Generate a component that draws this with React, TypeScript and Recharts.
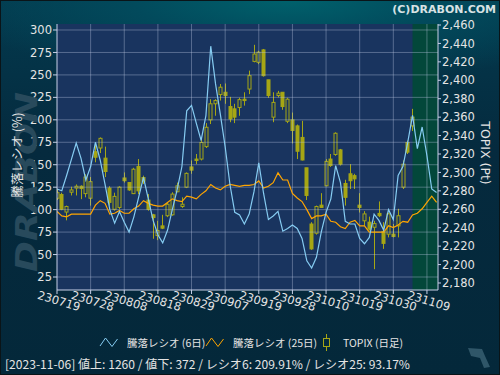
import { ComposedChart, Line, Bar, XAxis, YAxis, CartesianGrid, ReferenceArea, ReferenceLine } from "recharts"

// x ticks every 7 trading days
const tickIdx = [0, 7, 14, 21, 28, 35, 42, 49, 56, 63, 70, 77]
const tickLabels = ["230719", "230728", "230808", "230818", "230829", "230907", "230919", "230928", "231010", "231019", "231030", "231109"]
const leftTicks = [25, 50, 75, 100, 125, 150, 175, 200, 225, 250, 275, 300]
const rightTicks = [2180, 2200, 2220, 2240, 2260, 2280, 2300, 2320, 2340, 2360, 2380, 2400, 2420, 2440, 2460]

// 騰落レシオ 6日 (%)
const ratio6 = [
  123, 121, 138, 156, 174, 157, 133, 148, 175, 155,
  128, 100, 85, 98, 86, 75, 92, 114, 136, 112,
  88, 72, 63, 77, 100, 122, 148, 210, 216, 196,
  177, 205, 282, 240, 206, 170, 128, 97, 94, 84,
  95, 120, 152, 118, 89, 93, 98, 76, 79, 83,
  79, 68, 43, 35, 47, 75, 97, 112, 149, 130,
  87, 84, 84, 68, 62, 69, 95, 88, 77, 100,
  89, 138, 148, 175, 205, 168, 192, 160, 123, 119,
]

// 騰落レシオ 25日 (%)
const ratio25 = [
  98, 93, 92, 95, 95, 95, 95, 95, 105, 110,
  107, 95, 96, 99, 96, 96, 101, 104, 110, 107,
  105, 104, 104, 108, 112, 110, 109, 115, 114, 112,
  117, 121, 128, 124, 122, 126, 128, 127, 126, 127,
  127, 128, 132, 124, 126, 130, 141, 133, 133, 118,
  113, 109, 100, 90, 93, 93, 95, 87, 86, 81,
  79, 86, 88, 82, 82, 75, 75, 75, 75, 82,
  80, 83, 87, 86, 94, 96, 101, 108, 115, 108,
]

// TOPIX daily candles
const open = [
  2272, 2276, 2257, 2278.5, 2283, 2285, 2277, 2272, 2322.5, 2326.5,
  2315.5, 2283, 2260, 2262, 2294, 2289, 2277, 2306.5, 2294.5, 2270,
  2254, 2231.5, 2242, 2253, 2254, 2279, 2263, 2284, 2306, 2314.5,
  2314.5, 2328, 2357, 2374.5, 2384.5, 2387, 2371.5, 2369, 2370.5, 2379.5,
  2390.5, 2420.5, 2419.5, 2433, 2400.5, 2360, 2383.5, 2387, 2355.5, 2357,
  2350.5, 2338, 2305, 2244, 2234, 2264.5, 2285.5, 2314.5, 2319.5, 2324.5,
  2288, 2298.5, 2296.5, 2264.5, 2247.5, 2246, 2240.5, 2255.5, 2236, 2233,
  2233, 2242, 2284, 2332.5, 2350.5,
]
const high = [
  2282, 2278, 2264, 2284.5, 2287, 2286, 2298, 2295, 2331, 2338,
  2328, 2285, 2278, 2285, 2300, 2289.5, 2305, 2314.5, 2296.5, 2276.5,
  2255, 2247.5, 2254, 2267.5, 2278.5, 2289, 2273, 2300, 2313, 2320,
  2336.5, 2353.5, 2379.5, 2379.5, 2396, 2396.5, 2382, 2374.5, 2381, 2387,
  2410.5, 2438.5, 2432, 2434, 2400.5, 2387, 2388.5, 2387, 2381, 2365,
  2352, 2356, 2305, 2246, 2264, 2277.5, 2314.5, 2320, 2343.5, 2325.5,
  2292, 2309, 2298.5, 2277.5, 2258, 2252, 2247.5, 2268.5, 2246, 2256.5,
  2244, 2260.5, 2313, 2334.5, 2369,
]
const low = [
  2270, 2259, 2248, 2275, 2275, 2271, 2273, 2264, 2311, 2321,
  2295, 2264, 2258.5, 2260, 2289, 2280, 2276.5, 2276.5, 2287.5, 2258.5,
  2228, 2226.5, 2238.5, 2251.5, 2253, 2278.5, 2261.5, 2283, 2298.5, 2309,
  2313, 2326.5, 2352.5, 2361.5, 2378, 2374.5, 2354.5, 2353.5, 2361.5, 2372.5,
  2385, 2419.5, 2417.5, 2404, 2381, 2354.5, 2381.5, 2368, 2353.5, 2331.5,
  2314.5, 2313, 2270, 2216, 2232.5, 2261.5, 2285, 2306, 2318, 2307.5,
  2264, 2282, 2282, 2256.5, 2242, 2237, 2195, 2251.5, 2217, 2229.5,
  2229.5, 2229.5, 2282, 2320, 2345,
]
const close = [
  2278, 2260, 2263, 2281, 2285, 2282.5, 2295, 2290, 2316.5, 2337,
  2301, 2267.5, 2274, 2284, 2291, 2281, 2303.5, 2280, 2290.5, 2260,
  2251, 2237, 2239.5, 2265.5, 2276.5, 2285.5, 2265.5, 2299, 2302.5, 2313,
  2332.5, 2349, 2374.5, 2378, 2392.5, 2383.5, 2358, 2360, 2379, 2378,
  2405, 2428.5, 2430.5, 2405, 2383.5, 2376, 2386, 2371.5, 2379.5, 2345.5,
  2323, 2313.5, 2275, 2217, 2263, 2262, 2312, 2307.5, 2342.5, 2309,
  2273, 2291, 2293, 2262, 2255, 2238.5, 2244.5, 2253, 2223, 2255,
  2230.5, 2253, 2309, 2322, 2360,
]

const lastCandle = open.length - 1
const xMax = 79.3

const data = ratio6.map((r6, i) => ({
  i,
  r6,
  r25: ratio25[i],
  open: open[i],
  high: high[i],
  low: low[i],
  close: close[i],
  range: i < open.length ? [low[i], high[i]] : undefined,
}))

const TEXT = "#e4e4e4"
const CANDLE = "#a6a614"
const GRID = "rgba(190,200,225,0.38)"
const AXIS = "#c8d0e8"
const FONT = "'DejaVu Sans', sans-serif"
const JP = "'Noto Sans CJK JP', sans-serif"

function Candle(props: any) {
  const { x, y, width, height, payload } = props
  if (!payload || payload.range == null || height == null) return null
  const top = Math.min(y, y + height)
  const h = Math.abs(height)
  const { open: o, close: c, high: hi, low: lo } = payload
  const yOf = (v: number) => top + ((hi - v) / (hi - lo)) * h
  const cx = Math.round(x + width / 2) + 0.5
  const up = c >= o
  const bt = yOf(Math.max(o, c))
  const bb = yOf(Math.min(o, c))
  return (
    <g>
      <line x1={cx} x2={cx} y1={top} y2={top + h} stroke={CANDLE} strokeWidth={1} />
      <rect
        x={cx - 1.5}
        y={bt}
        width={3}
        height={Math.max(bb - bt, 1)}
        fill={up ? "#19345f" : CANDLE}
        stroke={CANDLE}
        strokeWidth={1}
      />
    </g>
  )
}

function DateTick(props: any) {
  const { x, y, payload } = props
  const k = tickIdx.indexOf(payload.value)
  const cx = x + 2
  const cy = y + 5
  return (
    <text
      x={cx}
      y={cy + 4}
      textAnchor="middle"
      fontFamily={FONT}
      fontSize={11.5}
      fill={TEXT}
      transform={`rotate(17 ${cx} ${cy})`}
    >
      {tickLabels[k]}
    </text>
  )
}

export default function App() {
  return (
    <div
      style={{
        position: "fixed",
        left: 0,
        top: 0,
        width: 500,
        height: 375,
        background:
          "radial-gradient(ellipse 70% 22% at 58% 0%, #00616c 0%, #024a5c 45%, rgba(4,40,60,0) 100%), linear-gradient(180deg, #033a4e 0%, #052a3e 40%, #04283a 100%)",
      }}
    >
      <ComposedChart width={500} height={375} data={data} margin={{ top: 24, right: 0, bottom: 55, left: 0 }}>
        <CartesianGrid yAxisId="left" fill="#19345f" horizontal={false} vertical={false} stroke="none" />
        <ReferenceArea yAxisId="left" x1={lastCandle} x2={xMax} fill="#03473a" fillOpacity={1} strokeOpacity={0} />
        {leftTicks.map((v) => (
          <ReferenceLine key={`h${v}`} yAxisId="left" y={v} stroke={GRID} />
        ))}
        {tickIdx.slice(1).map((v) => (
          <ReferenceLine key={`v${v}`} yAxisId="left" x={v} stroke={GRID} />
        ))}
        <XAxis
          dataKey="i"
          type="number"
          domain={[0, xMax]}
          ticks={tickIdx}
          interval={0}
          height={30}
          tickSize={4}
          tick={<DateTick />}
          axisLine={{ stroke: AXIS }}
          tickLine={{ stroke: AXIS }}
          allowDataOverflow
        />
        <YAxis
          yAxisId="left"
          orientation="left"
          width={57}
          domain={[10.53, 306.68]}
          ticks={leftTicks}
          interval={0}
          tickSize={4}
          tickMargin={1}
          tick={{ fill: TEXT, fontSize: 11.5, fontFamily: FONT }}
          axisLine={{ stroke: AXIS }}
          tickLine={{ stroke: AXIS }}
          allowDataOverflow
        />
        <YAxis
          yAxisId="right"
          orientation="right"
          width={62}
          domain={[2172.4, 2461.09]}
          ticks={rightTicks}
          interval={0}
          tickSize={3}
          tickMargin={1}
          tickFormatter={(v: number) => v.toLocaleString("en-US")}
          tick={{ fill: TEXT, fontSize: 11.5, fontFamily: FONT, textAnchor: "start" }}
          axisLine={{ stroke: AXIS }}
          tickLine={{ stroke: AXIS }}
          allowDataOverflow
        />
        <Bar
          yAxisId="right"
          dataKey="range"
          barSize={4}
          shape={(p: any) => <Candle {...p} />}
          isAnimationActive={false}
        />
        <Line
          yAxisId="left"
          dataKey="r25"
          type="linear"
          stroke="#ffa500"
          strokeWidth={1.2}
          dot={false}
          isAnimationActive={false}
        />
        <Line
          yAxisId="left"
          dataKey="r6"
          type="linear"
          stroke="#86ccf2"
          strokeWidth={1.2}
          dot={false}
          isAnimationActive={false}
        />
      </ComposedChart>

      <svg width={500} height={375} style={{ position: "absolute", left: 0, top: 0, pointerEvents: "none" }}>
        <rect x={0.5} y={0.5} width={499} height={374} fill="none" stroke="#0a1418" />
        <text x={496} y={13} textAnchor="end" fontFamily={FONT} fontWeight="bold" fontSize={11} fill="#d8e2e4">
          (C)DRABON.COM
        </text>

        {/* watermark */}
        <text
          x={0}
          y={0}
          transform="translate(37 182) rotate(-90)"
          textAnchor="middle"
          fontFamily={FONT}
          fontWeight="bold"
          fontStyle="italic"
          fontSize={30}
          textLength={180}
          lengthAdjust="spacingAndGlyphs"
          fill="#284a5c"
        >
          DRABON
        </text>

        <text
          x={0}
          y={0}
          transform="translate(22 155) rotate(-90)"
          textAnchor="middle"
          fontFamily={JP}
          fontSize={12.5}
          fill={TEXT}
        >
          騰落レシオ (%)
        </text>
        <text
          x={0}
          y={0}
          transform="translate(481 153) rotate(90)"
          textAnchor="middle"
          fontFamily={FONT}
          fontSize={12.5}
          fill={TEXT}
        >
          TOPIX (Pt)
        </text>

        {/* legend */}
        <polyline points="100,346 105.5,338 112,346.5 117.5,339" fill="none" stroke="#86ccf2" strokeWidth={1} />
        <text x={127} y={347} fontFamily={JP} fontSize={10.5} fill={TEXT}>
          騰落レシオ (6日)
        </text>
        <polyline points="206,346 211.5,338 218,346.5 223.5,339" fill="none" stroke="#ffa500" strokeWidth={1} />
        <text x={233} y={347} fontFamily={JP} fontSize={10.5} fill={TEXT}>
          騰落レシオ (25日)
        </text>
        <line x1={326.5} x2={326.5} y1={334} y2={351} stroke={CANDLE} />
        <rect x={323.5} y={338.5} width={6} height={8} fill="#052a3e" stroke={CANDLE} />
        <text x={343} y={347} fontFamily={JP} fontSize={10.5} fill={TEXT}>
          TOPIX (日足)
        </text>

        <text x={5} y={369} fontFamily={JP} fontSize={12} textLength={405} lengthAdjust="spacingAndGlyphs" fill={TEXT}>
          [2023-11-06]  値上: 1260 / 値下: 372 / レシオ6: 209.91% / レシオ25: 93.17%
        </text>

        <path d="M468 348 L482 349 L485 356 L490 367 L484 368 L480 358 L471 356 Z" fill="#2f5668" />
      </svg>
    </div>
  )
}
